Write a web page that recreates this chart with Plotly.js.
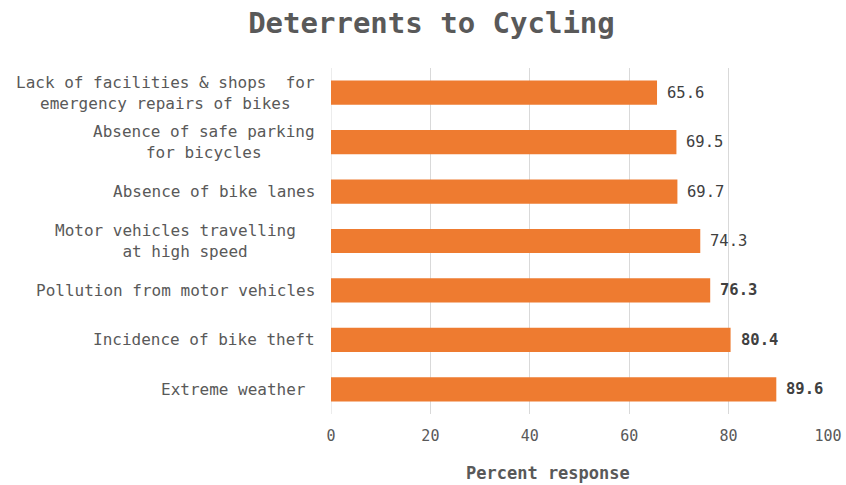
<!DOCTYPE html>
<html>
<head>
<meta charset="utf-8">
<script src="https://cdn.plot.ly/plotly-3.0.1.min.js"></script>
<style>html,body{margin:0;padding:0;background:#fff}#chart{width:846px;height:485px}</style>
</head>
<body>
<div id="chart"></div>
<script>
const categories = [
  "Lack of facilities & shops  for<br>emergency repairs of bikes",
  "Absence of safe parking<br>for bicycles",
  "Absence of bike lanes",
  "Motor vehicles travelling\u00a0\u00a0<br>at high speed",
  "Pollution from motor vehicles",
  "Incidence of bike theft",
  "Extreme weather\u00a0"
];
const values = [65.6, 69.5, 69.7, 74.3, 76.3, 80.4, 89.6];
const boldLabels = [false, false, false, false, true, true, true];
const xTicks = [0, 20, 40, 60, 80, 100];
const xTitle = "Percent response";

const FONT = "DejaVu Sans Mono, Liberation Mono, monospace";
const ids = categories.map((c, i) => "c" + i);

const trace = {
  type: "bar",
  orientation: "h",
  y: ids,
  x: values,
  marker: {color: "#EE7B30", line: {width: 0}},
  hoverinfo: "none"
};

const annotations = [];
categories.forEach((c, i) => {
  annotations.push({
    xref: "paper", yref: "y", x: 0, y: ids[i],
    text: c.replace("  ", "\u00a0\u00a0"),
    xanchor: "right", yanchor: "middle", align: "center",
    xshift: -14, showarrow: false,
    font: {family: FONT, size: 16, color: "#595959"}
  });
  annotations.push({
    xref: "x", yref: "y", x: values[i], y: ids[i],
    text: boldLabels[i] ? "<b>" + values[i].toFixed(1) + "</b>" : values[i].toFixed(1),
    xanchor: "left", yanchor: "middle",
    xshift: 8, showarrow: false,
    font: {family: FONT, size: 15.5, color: "#404040"}
  });
});
annotations.push({
  xref: "paper", yref: "paper", x: 0.4366, y: 0, yshift: -59,
  xanchor: "center", yanchor: "middle", showarrow: false,
  text: "<b>" + xTitle + "</b>",
  font: {family: FONT, size: 17, color: "#595959"}
});

const layout = {
  width: 846, height: 485,
  margin: {l: 331, r: 18, t: 68, b: 71},
  paper_bgcolor: "#ffffff", plot_bgcolor: "#ffffff",
  bargap: 0.51,
  showlegend: false,
  title: {
    text: "<b>Deterrents to Cycling</b>",
    x: 0.51, xanchor: "center", y: 0.953, yanchor: "middle",
    font: {family: FONT, size: 29, color: "#595959"}
  },
  xaxis: {
    range: [0, 100], tickvals: xTicks, ticktext: xTicks.map(String),
    showgrid: true, gridcolor: "#d9d9d9", gridwidth: 1,
    zeroline: false, showline: false, ticks: "",
    ticklabelstandoff: 11,
    tickfont: {family: FONT, size: 15, color: "#595959"},
    fixedrange: true
  },
  yaxis: {
    autorange: "reversed", showticklabels: false, ticks: "",
    showgrid: false, zeroline: false, showline: false,
    fixedrange: true
  },
  shapes: [{type: "line", xref: "x", yref: "paper", x0: 0, x1: 0, y0: 0, y1: 1,
            line: {color: "#d9d9d9", width: 1}, layer: "below"}],
  annotations: annotations
};

Plotly.newPlot("chart", [trace], layout, {displayModeBar: false, staticPlot: true});
</script>
</body>
</html>
